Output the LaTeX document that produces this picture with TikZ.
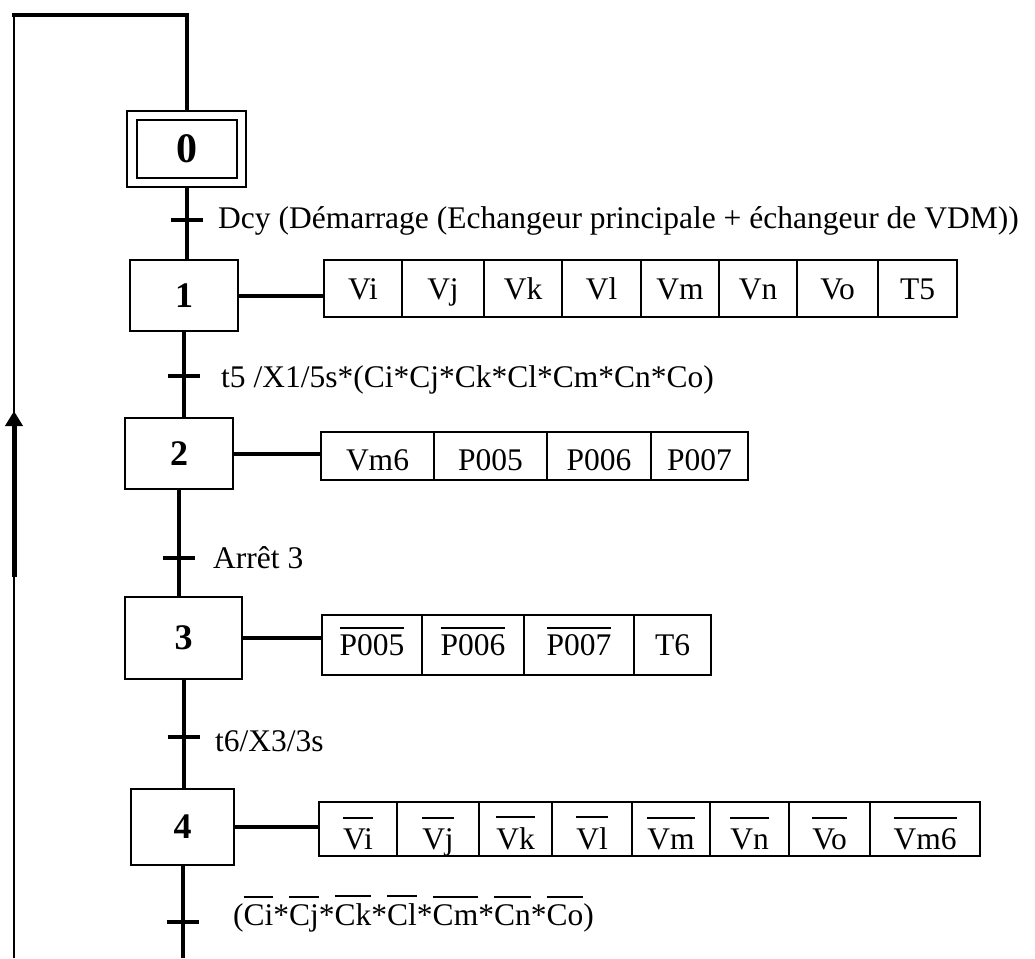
\documentclass[tikz,border=0pt]{standalone}
\usepackage{fontspec}
\setmainfont{Liberation Serif}
\usetikzlibrary{arrows.meta,calc}
\newcommand\olx[2][5pt]{\leavevmode\vbox{\hrule height 2pt\kern#1\hbox{#2}}}
\begin{document}
\begin{tikzpicture}[x=1pt,y=-1pt,
  every node/.style={font=\fontsize{31.5}{36}\selectfont},
  etape/.style={draw,line width=2pt,inner sep=0pt,font=\bfseries\fontsize{36}{40}\selectfont},
  act/.style={draw,line width=2pt,inner sep=0pt},
  r1/.style={act,minimum height=57pt,text height=21pt,text depth=0pt},
  r2/.style={act,minimum height=48pt,text height=28pt,text depth=0pt},
  r3/.style={act,minimum height=60pt,text height=20pt,text depth=0pt},
  r4/.style={act,minimum height=54pt,text height=40pt,text depth=0pt},
  flow/.style={line width=4pt},
  bar/.style={line width=4pt},
  lbl/.style={anchor=base west,inner sep=0pt}]
\useasboundingbox (0,0) rectangle (1035,958);

% steps
\node[etape,minimum width=119pt,minimum height=76pt] (s0) at (186.5,149) {};
\node[etape,minimum width=100pt,minimum height=58pt,font=\bfseries\fontsize{42}{46}\selectfont] (s0i) at (187,149) {0};
\node[etape,minimum width=108pt,minimum height=71pt] (s1) at (184,295.5) {1};
\node[etape,minimum width=108pt,minimum height=71pt] (s2) at (179,453.5) {2};
\node[etape,minimum width=117pt,minimum height=82pt] (s3) at (183.5,638) {3};
\node[etape,minimum width=103pt,minimum height=76pt] (s4) at (182.5,827) {4};

% actions step 1
\node[r1,minimum width=78pt] (a1) at (363,288.5) {Vi};
\node[r1,minimum width=82pt] (a2) at (443,288.5) {Vj};
\node[r1,minimum width=78pt] (a3) at (523,288.5) {Vk};
\node[r1,minimum width=79pt] (a4) at (601.5,288.5) {Vl};
\node[r1,minimum width=78pt] (a5) at (680,288.5) {Vm};
\node[r1,minimum width=78pt] (a6) at (758,288.5) {Vn};
\node[r1,minimum width=81pt] (a7) at (837.5,288.5) {Vo};
\node[r1,minimum width=79pt] (a8) at (917.5,288.5) {T5};

% actions step 2
\node[r2,minimum width=113pt] (b1) at (377.5,456) {Vm6};
\node[r2,minimum width=113pt] (b2) at (490.5,456) {P005};
\node[r2,minimum width=104pt] (b3) at (599,456) {P006};
\node[r2,minimum width=97pt] (b4) at (699.5,456) {P007};

% actions step 3
\node[r3,minimum width=100pt] (c1) at (372,645) {\olx{P005}};
\node[r3,minimum width=102pt] (c2) at (473,645) {\olx{P006}};
\node[r3,minimum width=110pt] (c3) at (579,645) {\olx{P007}};
\node[r3,minimum width=77pt] (c4) at (672.5,645) {T6};

% actions step 4
\node[r4,minimum width=78pt] (d1) at (358,829) {\olx[9pt]{Vi}};
\node[r4,minimum width=82pt] (d2) at (438,829) {\olx[9pt]{Vj}};
\node[r4,minimum width=73pt] (d3) at (515.5,829) {\olx[9pt]{Vk}};
\node[r4,minimum width=80pt] (d4) at (592,829) {\olx[9pt]{Vl}};
\node[r4,minimum width=78pt] (d5) at (671,829) {\olx[9pt]{Vm}};
\node[r4,minimum width=79pt] (d6) at (749.5,829) {\olx[9pt]{Vn}};
\node[r4,minimum width=81pt] (d7) at (829.5,829) {\olx[9pt]{Vo}};
\node[r4,minimum width=110pt] (d8) at (925,829) {\olx[9pt]{Vm6}};

% action connectors
\draw[flow] (s1.east) -- (s1.east -| a1.west);
\draw[flow] (s2.east) -- (s2.east -| b1.west);
\draw[flow] (s3.east) -- (s3.east -| c1.west);
\draw[flow] (s4.east) -- (s4.east -| d1.west);

% loop
\coordinate (bot) at (14,958);
\coordinate (top) at (14,15);
\draw[line width=2.5pt] (bot) -- (top);
\draw[line width=4pt,line cap=rect] (top) -| (s0.north);
\coordinate (arrA) at (14,577);
\coordinate (arrB) at (14,411);
\draw[line width=5pt,-{Triangle[length=15pt,width=17pt]}] (arrA) -- (arrB);

% flow lines
\draw[flow] (s0.south) -- (s0.south |- s1.north);
\draw[flow] (s1.south) -- (s1.south |- s2.north);
\draw[flow] (s2.south) -- (s2.south |- s3.north);
\draw[flow] (s3.south) -- (s3.south |- s4.north);
\draw[flow] (s4.south) -- (s4.south |- bot);

% transition bars
\coordinate (t0) at (186.5,220);
\coordinate (t1) at (184,376);
\coordinate (t2) at (179,558);
\coordinate (t3) at (183.5,737);
\coordinate (t4) at (182.5,922);
\foreach \t in {t0,t1,t2,t3,t4}
  \draw[bar] ([xshift=-16pt]\t) -- ([xshift=16pt]\t);

% transition labels
\node[lbl] (l0) at (218,228) {Dcy (Démarrage (Echangeur principale + échangeur de VDM))};
\node[lbl] (l1) at (221,387) {t5 /X1/5s*(Ci*Cj*Ck*Cl*Cm*Cn*Co)};
\node[lbl] (l2) at (213,568) {Arrêt 3};
\node[lbl] (l3) at (215,751) {t6/X3/3s};
\node[lbl] (l4) at (233,925) {(\olx[6pt]{Ci}*\olx[6pt]{Cj}*\olx[6pt]{Ck}*\olx[6pt]{Cl}*\olx[6pt]{Cm}*\olx[6pt]{Cn}*\olx[6pt]{Co})};
\end{tikzpicture}
\end{document}
